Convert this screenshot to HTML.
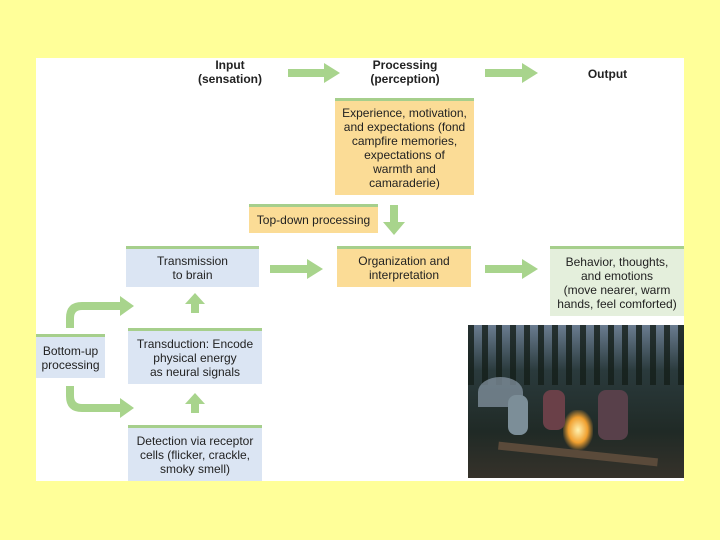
<!DOCTYPE html>
<html><head><meta charset="utf-8"><style>
body{margin:0;width:720px;height:540px;background:#ffff99;position:relative;overflow:hidden;font-family:"Liberation Sans",sans-serif;}
.p{position:absolute;left:36px;top:58px;width:648px;height:423px;background:#fff;}
.b{position:absolute;box-sizing:border-box;border-top:3px solid #a6cf8c;display:flex;align-items:center;justify-content:center;text-align:center;font-size:12px;line-height:14px;color:#222;}
.o{background:#fbdc96;}
.bl{background:#dbe5f3;}
.g{background:#e4efdc;}
.t{position:absolute;text-align:center;font-weight:bold;font-size:12px;line-height:14px;color:#222;}
svg{position:absolute;left:0;top:0;}
</style></head><body>
<div class="p"></div>
<div class="t" style="left:190px;top:58px;width:80px">Input<br>(sensation)</div>
<div class="t" style="left:360px;top:58px;width:90px">Processing<br>(perception)</div>
<div class="t" style="left:575px;top:67px;width:65px">Output</div>
<div class="b o" style="left:335px;top:98px;width:139px;height:97px">Experience, motivation,<br>and expectations (fond<br>campfire memories,<br>expectations of<br>warmth and<br>camaraderie)</div>
<div class="b o" style="left:249px;top:204px;width:129px;height:29px">Top-down processing</div>
<div class="b bl" style="left:126px;top:246px;width:133px;height:41px">Transmission<br>to brain</div>
<div class="b o" style="left:337px;top:246px;width:134px;height:41px">Organization and<br>interpretation</div>
<div class="b g" style="left:550px;top:246px;width:134px;height:70px">Behavior, thoughts,<br>and emotions<br>(move nearer, warm<br>hands, feel comforted)</div>
<div class="b bl" style="left:36px;top:334px;width:69px;height:44px">Bottom-up<br>processing</div>
<div class="b bl" style="left:128px;top:328px;width:134px;height:56px">Transduction: Encode<br>physical energy<br>as neural signals</div>
<div class="b bl" style="left:128px;top:425px;width:134px;height:56px">Detection via receptor<br>cells (flicker, crackle,<br>smoky smell)</div>
<div style="position:absolute;left:468px;top:325px;width:216px;height:153px;background:linear-gradient(180deg,#6a7c90 0%,#2a3a3c 30%,#202a26 70%,#36322a 100%);overflow:hidden">
<div style="position:absolute;left:0;top:0;width:216px;height:60px;background:repeating-linear-gradient(90deg,rgba(20,30,25,.8) 0 6px,rgba(0,0,0,0) 6px 14px)"></div>
<div style="position:absolute;left:95px;top:85px;width:30px;height:40px;background:radial-gradient(ellipse,#fff2b0 0%,#f0a030 45%,rgba(200,80,20,0) 75%)"></div>
<div style="position:absolute;left:10px;top:52px;width:45px;height:30px;background:#8a9aa8;border-radius:50% 50% 0 0;opacity:.7"></div>
<div style="position:absolute;left:40px;top:70px;width:20px;height:40px;background:#7c8e98;border-radius:8px"></div>
<div style="position:absolute;left:75px;top:65px;width:22px;height:40px;background:#6a4048;border-radius:8px"></div>
<div style="position:absolute;left:130px;top:65px;width:30px;height:50px;background:#58404a;border-radius:8px"></div>
<div style="position:absolute;left:30px;top:125px;width:160px;height:8px;background:#5a4a3a;transform:rotate(6deg)"></div>
</div>
<svg width="720" height="540" fill="#a8d48c" stroke="none">
<polygon points="288,69 324,69 324,63 340,73 324,83 324,77 288,77"/>
<polygon points="485,69 522,69 522,63 538,73 522,83 522,77 485,77"/>
<polygon points="270,265 307,265 307,259 323,269 307,279 307,273 270,273"/>
<polygon points="485,265 522,265 522,259 538,269 522,279 522,273 485,273"/>
<polygon points="390,205 398,205 398,222 405,222 394,235 383,222 390,222"/>
<polygon points="191,313 199,313 199,304 205,304 195,293 185,304 191,304"/>
<polygon points="191,413 199,413 199,404 205,404 195,393 185,404 191,404"/>
<path d="M66,328 L66,318 Q66,302 82,302 L120,302 L120,296 L134,306 L120,316 L120,310 L82,310 Q74,310 74,318 L74,328 Z"/>
<path d="M66,386 L66,396 Q66,412 82,412 L120,412 L120,418 L134,408 L120,398 L120,404 L82,404 Q74,404 74,396 L74,386 Z"/>
</svg>
</body></html>
